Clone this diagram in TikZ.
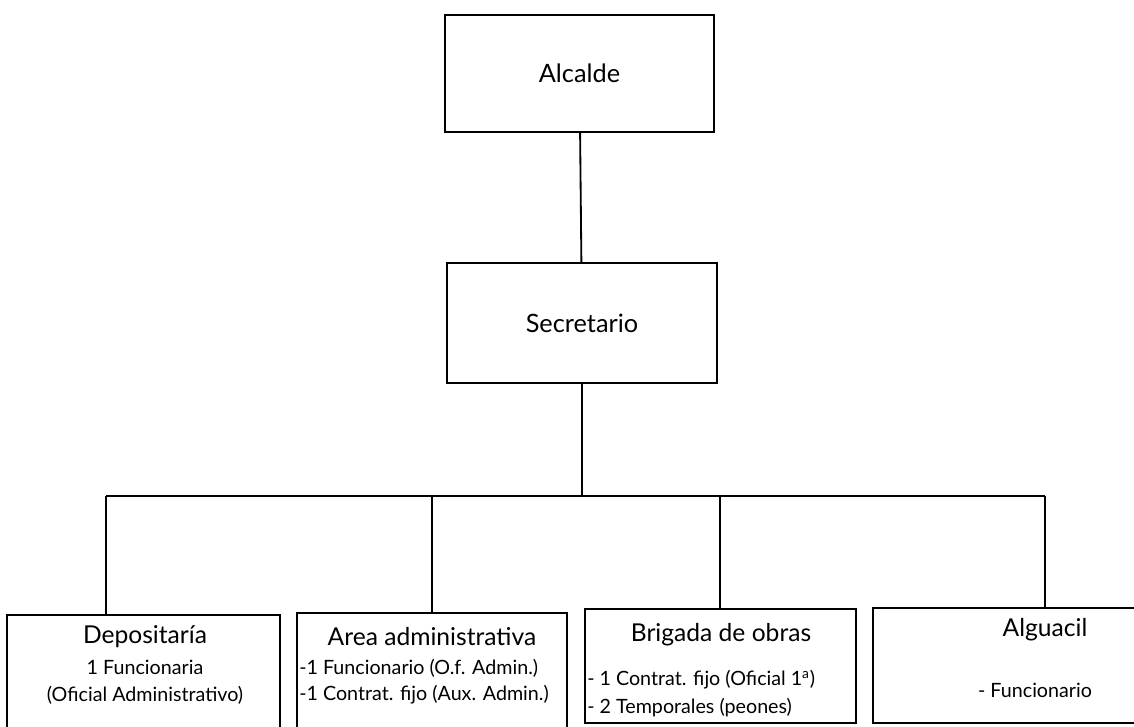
\documentclass[tikz,border=0pt]{standalone}
\usepackage{fontspec}
\setmainfont{Lato}
\usetikzlibrary{positioning}
\newcommand\pxu{0.025cm}
\tikzset{
  box/.style={draw, line width=1.3pt, inner sep=0pt},
  link/.style={line width=1.3pt},
  top/.style={font=\fontsize{18}{21}\selectfont},
  head/.style={font=\fontsize{17.5}{20}\selectfont},
  item/.style={font=\fontsize{14}{17}\selectfont, inner sep=0pt}
}

\begin{document}
\begin{tikzpicture}[x=0.025cm, y=-0.025cm]
  \useasboundingbox (0,0) rectangle (1134,727);
  \clip (0,0) rectangle (1134,727);
  % upper levels
  \node[box, top, minimum width=269*\pxu, minimum height=117*\pxu] (alcalde) at (579.5,73.5) {Alcalde};
  \node[box, top, minimum width=270*\pxu, minimum height=120*\pxu] (secretario) at (582,323) {Secretario};
  % lower level boxes
  \node[box, minimum width=273*\pxu, minimum height=125*\pxu] (deposit) at (143.5,677.5) {};
  \node[box, minimum width=270*\pxu, minimum height=127*\pxu] (area) at (432,676.5) {};
  \node[box, minimum width=271*\pxu, minimum height=114*\pxu] (brigada) at (720.5,666) {};
  \node[box, minimum width=344*\pxu, minimum height=115*\pxu] (alguacil) at (1045,665.5) {};
  % texts
  \node[head] (depositT) at (145,637) {Depositaría};
  \node[item] (depositA) at (145,667) {1 Funcionaria};
  \node[item] (depositB) at (145,695) {(Oficial Administrativo)};
  \node[head] (areaT) at (432,637) {Area administrativa};
  \node[item, anchor=west] (areaA) at (299,668) {-1 Funcionario (O.f. Admin.)};
  \node[item, anchor=west] (areaB) at (299,695) {-1 Contrat. fijo (Aux. Admin.)};
  \node[head] (brigadaT) at (721,635) {Brigada de obras};
  \node[item, anchor=west] (brigadaA) at (587,680) {- 1 Contrat. fijo (Oficial 1\textsuperscript{a})};
  \node[item, anchor=west] (brigadaB) at (587,708) {- 2 Temporales (peones)};
  \node[head] (alguacilT) at (1045,630) {Alguacil};
  \node[item] (alguacilA) at (1035,690) {- Funcionario};
  % connectors
  \coordinate (hub) at (582,496);
  \coordinate (j1) at (106,496);
  \coordinate (j2) at (432,496);
  \coordinate (j3) at (720,496);
  \coordinate (j4) at (1045,496);
  \draw[link] (alcalde) -- (secretario);
  \draw[link] (secretario) -- (hub);
  \draw[link] (j1) -- (j4);
  \draw[link] (j1) -- (j1 |- deposit.north);
  \draw[link] (j2) -- (area);
  \draw[link] (j3) -- (j3 |- brigada.north);
  \draw[link] (j4) -- (alguacil);
\end{tikzpicture}
\end{document}
